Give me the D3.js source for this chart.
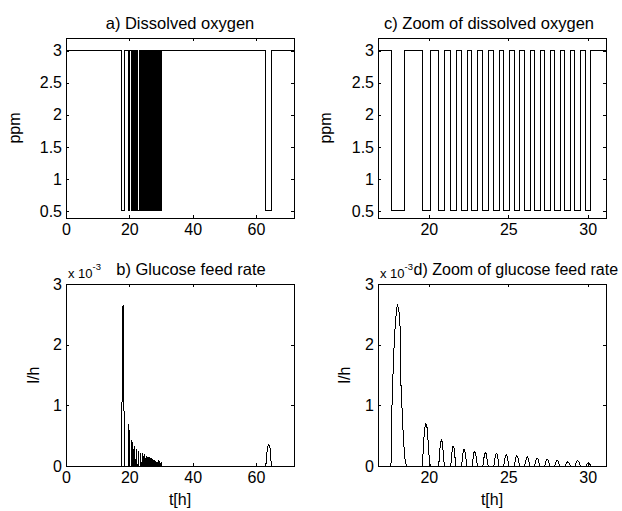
<!DOCTYPE html>
<html>
<head>
<meta charset="utf-8">
<script src="https://cdn.jsdelivr.net/npm/d3@7"></script>
<style>
  body { margin: 0; background: #fff; }
  svg { font-family: "Liberation Sans", Arial, sans-serif; }
  .tick line { stroke: #000; }
  .tick text { fill: #000; }
</style>
</head>
<body>
<div id="chart"></div>
<script>
// dissolved oxygen: switches between high and low level (times in h)
var doHigh = 3;
var doLow = 0.5;
var doDrop = [17.62, 19.60, 20.60, 21.36, 22.04, 22.71, 23.38, 24.07, 24.69, 25.36, 26.01, 26.64, 27.27, 27.90, 28.56, 29.19, 29.88, 63.10];
var doRise = [18.45, 20.10, 21.00, 21.72, 22.41, 23.08, 23.75, 24.44, 25.06, 25.73, 26.38, 27.01, 27.64, 28.27, 28.93, 29.56, 30.16, 64.90];

// glucose feed rate, x 10^-3 l/h
var gfT = [0,
  17.55, 17.62, 17.65, 17.78, 17.88, 17.97, 18.03, 18.12, 18.20, 18.25, 18.32, 18.40, 18.48, 18.58,
  19.60, 19.66, 19.74, 19.81, 19.89, 19.96, 20.04, 20.10,
  20.62, 20.68, 20.74, 20.79, 20.85, 20.91, 20.98,
  21.38, 21.44, 21.49, 21.53, 21.58, 21.64, 21.70,
  22.06, 22.12, 22.17, 22.22, 22.27, 22.33, 22.39,
  22.73, 22.79, 22.84, 22.89, 22.94, 23.00, 23.06,
  23.40, 23.46, 23.51, 23.56, 23.61, 23.67, 23.73,
  24.09, 24.15, 24.20, 24.25, 24.30, 24.36, 24.42,
  24.71, 24.77, 24.82, 24.87, 24.92, 24.98, 25.04,
  25.38, 25.44, 25.49, 25.54, 25.59, 25.65, 25.71,
  26.03, 26.09, 26.14, 26.19, 26.24, 26.30, 26.36,
  26.66, 26.72, 26.77, 26.82, 26.87, 26.93, 26.99,
  27.29, 27.35, 27.40, 27.45, 27.50, 27.56, 27.62,
  27.92, 27.98, 28.03, 28.08, 28.13, 28.19, 28.25,
  28.58, 28.64, 28.69, 28.74, 28.79, 28.85, 28.91,
  29.21, 29.27, 29.32, 29.37, 29.42, 29.48, 29.54,
  29.90, 29.96, 30.01, 30.06, 30.11, 30.15, 30.18,
  63.10, 63.30, 63.60, 63.90, 64.20, 64.50, 64.70, 64.90,
  72];
var gfV = [0,
  0, 0.05, 0.75, 1.80, 2.30, 2.60, 2.65, 2.55, 2.25, 1.30, 0.90, 0.45, 0.15, 0,
  0, 0.35, 0.62, 0.70, 0.63, 0.38, 0.08, 0,
  0, 0.22, 0.40, 0.43, 0.39, 0.20, 0,
  0, 0.18, 0.31, 0.33, 0.30, 0.16, 0,
  0, 0.15, 0.26, 0.28, 0.25, 0.13, 0,
  0, 0.13, 0.22, 0.24, 0.22, 0.11, 0,
  0, 0.12, 0.20, 0.22, 0.20, 0.10, 0,
  0, 0.11, 0.19, 0.21, 0.19, 0.10, 0,
  0, 0.10, 0.17, 0.19, 0.17, 0.09, 0,
  0, 0.09, 0.15, 0.17, 0.15, 0.08, 0,
  0, 0.08, 0.13, 0.15, 0.13, 0.07, 0,
  0, 0.07, 0.12, 0.13, 0.12, 0.06, 0,
  0, 0.06, 0.10, 0.11, 0.10, 0.05, 0,
  0, 0.05, 0.08, 0.09, 0.08, 0.04, 0,
  0, 0.04, 0.06, 0.07, 0.06, 0.03, 0,
  0, 0.05, 0.08, 0.09, 0.08, 0.04, 0,
  0, 0.03, 0.045, 0.05, 0.04, 0.02, 0,
  0, 0.13, 0.30, 0.35, 0.33, 0.28, 0.10, 0,
  0];

var fullRange = [0, 72];
var zoomRange = [16.8, 31.15];
var fullTicks = [0, 20, 40, 60];
var zoomTicks = [20, 25, 30];
var doTicks = [0.5, 1, 1.5, 2, 2.5, 3];
var gfTicks = [0, 1, 2, 3];

var svg = d3.select("#chart").append("svg")
  .attr("width", 622)
  .attr("height", 511);

// step line for the oxygen set points
var doPts = [[fullRange[0], doHigh]];
doDrop.forEach(function(t, i){
  doPts.push([t, doHigh], [t, doLow], [doRise[i], doLow], [doRise[i], doHigh]);
});
doPts.push([fullRange[1], doHigh]);

var gfPts = gfT.map(function(t, i){ return [t, gfV[i]]; });

function drawPanel(p){
  var g = svg.append("g").attr("transform", "translate(" + p.left + "," + p.top + ")");
  var w = p.right - p.left, h = p.bottom - p.top;

  var xScale = d3.scaleLinear().domain(p.xDomain).range([0, w]);
  var yScale = d3.scaleLinear().domain(p.yDomain).range([h, 0]);

  g.append("clipPath").attr("id", "clip" + p.id)
    .append("rect").attr("width", w).attr("height", h);

  var line = d3.line()
    .x(function(d){ return xScale(d[0]); })
    .y(function(d){ return yScale(d[1]); });

  g.append("path")
    .datum(p.data)
    .attr("clip-path", "url(#clip" + p.id + ")")
    .attr("fill", "none")
    .attr("stroke", "#000")
    .attr("stroke-width", 1)
    .attr("shape-rendering", "crispEdges")
    .attr("d", line);

  var fs = "16px";
  var plain = function(d){ return String(d); };
  var bottom = g.append("g").attr("transform", "translate(0," + h + ")")
    .call(d3.axisBottom(xScale).tickValues(p.xTicks).tickSize(-3).tickPadding(6).tickFormat(plain));
  var top = g.append("g")
    .call(d3.axisTop(xScale).tickValues(p.xTicks).tickSize(-3).tickFormat(""));
  var left = g.append("g")
    .call(d3.axisLeft(yScale).tickValues(p.yTicks).tickSize(-3).tickPadding(4).tickFormat(plain));
  var right = g.append("g").attr("transform", "translate(" + w + ",0)")
    .call(d3.axisRight(yScale).tickValues(p.yTicks).tickSize(-3).tickFormat(""));
  [bottom, top, left, right].forEach(function(a){
    a.select(".domain").remove();
    a.attr("font-size", fs).attr("font-family", null);
    a.selectAll("line").attr("shape-rendering", "crispEdges");
  });

  g.append("rect")
    .attr("width", w).attr("height", h)
    .attr("fill", "none").attr("stroke", "#000")
    .attr("shape-rendering", "crispEdges");

  // y label
  g.append("text")
    .attr("transform", "translate(" + (p.yLabelX - p.left) + "," + (h / 2) + ") rotate(-90)")
    .attr("text-anchor", "middle")
    .attr("font-size", fs)
    .text(p.yLabel);

  if (p.xLabel){
    g.append("text")
      .attr("x", w / 2)
      .attr("y", h + 39)
      .attr("text-anchor", "middle")
      .attr("font-size", fs)
      .text(p.xLabel);
  }

  var titleX = p.titleX - p.left;
  if (p.exponent){
    var ex = g.append("text").attr("x", 2).attr("y", -6).attr("font-size", "13px");
    ex.append("tspan").text("x 10");
    ex.append("tspan").attr("dy", -8).attr("font-size", "9.5px").text("-3");
    if (p.titleAnchor == "start") titleX = 2 + ex.node().getComputedTextLength() + 0.5;
  }

  // title
  g.append("text")
    .attr("x", titleX)
    .attr("y", -9)
    .attr("text-anchor", p.titleAnchor)
    .attr("font-size", p.titleSize || "16.5px")
    .text(p.title);
}

drawPanel({id: "a", left: 66, top: 38, right: 294, bottom: 218,
  xDomain: fullRange, yDomain: [0.39, 3.2], xTicks: fullTicks, yTicks: doTicks,
  data: doPts, title: "a) Dissolved oxygen", titleX: 180, titleAnchor: "middle",
  yLabel: "ppm", yLabelX: 20});
drawPanel({id: "c", left: 378, top: 38, right: 606, bottom: 218,
  xDomain: zoomRange, yDomain: [0.39, 3.2], xTicks: zoomTicks, yTicks: doTicks,
  data: doPts, title: "c) Zoom of dissolved oxygen", titleX: 489, titleAnchor: "middle",
  yLabel: "ppm", yLabelX: 331});
drawPanel({id: "b", left: 66, top: 284, right: 294, bottom: 466,
  xDomain: fullRange, yDomain: [0, 3], xTicks: fullTicks, yTicks: gfTicks,
  data: gfPts, title: "b) Glucose feed rate", titleX: 191, titleAnchor: "middle",
  yLabel: "l/h", yLabelX: 39, xLabel: "t[h]", exponent: true});
drawPanel({id: "d", left: 378, top: 284, right: 606, bottom: 466,
  xDomain: zoomRange, yDomain: [0, 3], xTicks: zoomTicks, yTicks: gfTicks,
  data: gfPts, title: "d) Zoom of glucose feed rate", titleX: 0, titleAnchor: "start",
  titleSize: "16px", yLabel: "l/h", yLabelX: 350, xLabel: "t[h]", exponent: true});
</script>
</body>
</html>
